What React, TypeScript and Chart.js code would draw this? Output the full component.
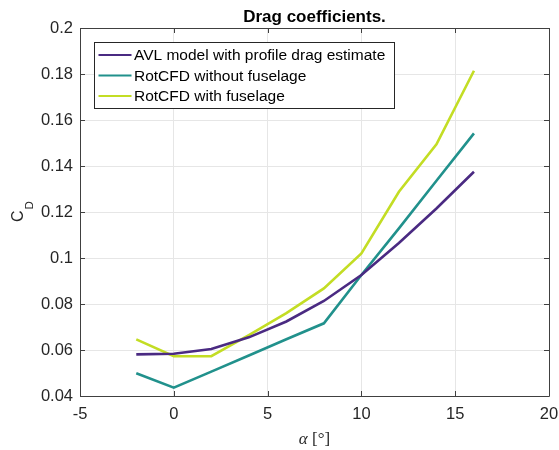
import React, { useEffect, useRef } from "react";
import { Chart, registerables } from "chart.js";

Chart.register(...registerables);

const alpha = [-2, 0, 2, 4, 6, 8, 10, 12, 14, 16];
const avlModel = [0.0581, 0.0584, 0.0604, 0.0655, 0.0724, 0.0813, 0.0926, 0.1065, 0.1215, 0.1375];
const rotNoFuselage = [0.0499, 0.0436, 0.0506, 0.0576, 0.0647, 0.0716, 0.0926, 0.1129, 0.1336, 0.1542];
const rotWithFuselage = [0.0646, 0.0573, 0.0573, 0.0665, 0.076, 0.0868, 0.102, 0.1288, 0.1494, 0.1814];

const seriesNames = [
  "AVL model with profile drag estimate",
  "RotCFD without fuselage",
  "RotCFD with fuselage",
];
const seriesColors = ["#4a2a82", "#21918c", "#c3dd24"];

const xTicks = [-5, 0, 5, 10, 15, 20];
const yTicks = [0.04, 0.06, 0.08, 0.1, 0.12, 0.14, 0.16, 0.18, 0.2];
const yTickLabels = ["0.04", "0.06", "0.08", "0.1", "0.12", "0.14", "0.16", "0.18", "0.2"];
const xTickLabels = ["-5", "0", "5", "10", "15", "20"];

const titleText = "Drag coefficients.";

const SANS = "'Liberation Sans', Arial, Helvetica, sans-serif";
const SERIF = "'Liberation Serif', 'Times New Roman', serif";
const TEXT = "#262626";

const decorPlugin = {
  id: "decor",
  afterDraw(chart: any) {
    const ctx = chart.ctx as CanvasRenderingContext2D;
    const a = chart.chartArea;
    const xs = chart.scales.x;
    const ys = chart.scales.y;
    ctx.save();
    // box
    ctx.strokeStyle = "#404040";
    ctx.lineWidth = 1;
    ctx.beginPath();
    ctx.rect(Math.round(a.left) + 0.5, Math.round(a.top) + 0.5, Math.round(a.right - a.left), Math.round(a.bottom - a.top));
    ctx.stroke();
    // inward ticks
    const tl = 5;
    ctx.beginPath();
    xTicks.forEach((v) => {
      const px = Math.round(xs.getPixelForValue(v)) + 0.5;
      ctx.moveTo(px, a.bottom);
      ctx.lineTo(px, a.bottom - tl);
      ctx.moveTo(px, a.top);
      ctx.lineTo(px, a.top + tl);
    });
    yTicks.forEach((v) => {
      const py = Math.round(ys.getPixelForValue(v)) + 0.5;
      ctx.moveTo(a.left, py);
      ctx.lineTo(a.left + tl, py);
      ctx.moveTo(a.right, py);
      ctx.lineTo(a.right - tl, py);
    });
    ctx.stroke();

    // title
    ctx.fillStyle = "#000";
    ctx.font = `bold 17px ${SANS}`;
    ctx.textAlign = "center";
    ctx.textBaseline = "alphabetic";
    ctx.fillText(titleText, (a.left + a.right) / 2, 22);

    // x label: α [°]
    const cx = (a.left + a.right) / 2;
    ctx.font = `italic 17px ${SERIF}`;
    const wA = ctx.measureText("α").width;
    ctx.font = `17px ${SERIF}`;
    const rest = " [°]";
    const wR = ctx.measureText(rest).width;
    const startX = cx - (wA + wR) / 2;
    ctx.fillStyle = TEXT;
    ctx.textAlign = "left";
    ctx.font = `italic 17px ${SERIF}`;
    ctx.fillText("α", startX, 444);
    ctx.font = `17px ${SERIF}`;
    ctx.fillText(rest, startX + wA, 444);

    // y label: C_D
    ctx.save();
    ctx.translate(23, 222);
    ctx.rotate(-Math.PI / 2);
    ctx.textAlign = "left";
    ctx.textBaseline = "alphabetic";
    ctx.font = `16px ${SANS}`;
    ctx.fillText("C", 0, 0);
    const wC = ctx.measureText("C").width;
    ctx.font = `11.5px ${SANS}`;
    ctx.fillText("D", wC + 1, 10);
    ctx.restore();

    // legend
    ctx.font = `15.5px ${SANS}`;
    let maxW = 0;
    seriesNames.forEach((n) => {
      maxW = Math.max(maxW, ctx.measureText(n).width);
    });
    const bx = 94.5;
    const by = 42.5;
    const textX = 134;
    const bw = Math.round(textX + maxW + 9 - bx);
    const bh = 66;
    ctx.fillStyle = "#fff";
    ctx.fillRect(bx, by, bw, bh);
    ctx.strokeStyle = "#262626";
    ctx.lineWidth = 1;
    ctx.strokeRect(bx, by, bw, bh);
    const rows = [55, 75.5, 96];
    chart.data.datasets.forEach((ds: any, i: number) => {
      ctx.strokeStyle = ds.borderColor;
      ctx.lineWidth = 2.2;
      ctx.beginPath();
      ctx.moveTo(98.5, rows[i]);
      ctx.lineTo(131.5, rows[i]);
      ctx.stroke();
      ctx.fillStyle = "#000";
      ctx.textAlign = "left";
      ctx.textBaseline = "middle";
      ctx.fillText(ds.label, textX, rows[i] + 1);
    });
    ctx.restore();
  },
};

export default function App() {
  const ref = useRef<HTMLCanvasElement | null>(null);
  useEffect(() => {
    if (!ref.current) return;
    const series = [avlModel, rotNoFuselage, rotWithFuselage];
    const chart = new Chart(ref.current, {
      type: "line",
      data: {
        datasets: series.map((s, i) => ({
          label: seriesNames[i],
          data: alpha.map((x, j) => ({ x, y: s[j] })),
          borderColor: seriesColors[i],
          backgroundColor: seriesColors[i],
          borderWidth: 2.6,
          pointRadius: 0,
          tension: 0,
          fill: false,
        })),
      },
      options: {
        responsive: false,
        animation: false,
        events: [],
        layout: { padding: { top: 28, right: 10, left: 0, bottom: 0 } },
        plugins: {
          legend: { display: false },
          title: { display: false },
          tooltip: { enabled: false },
        },
        scales: {
          x: {
            type: "linear",
            min: -5,
            max: 20,
            afterBuildTicks: (s: any) => {
              s.ticks = xTicks.map((v) => ({ value: v }));
            },
            afterFit: (s: any) => {
              s.height = 54;
              s.paddingRight = 0;
              s.paddingLeft = 0;
            },
            grid: { color: "#e6e6e6", drawTicks: false },
            border: { display: false },
            ticks: {
              padding: 9,
              color: TEXT,
              font: { family: SANS, size: 16.5 },
              callback: (v: any) => {
                const i = xTicks.indexOf(Number(v));
                return i >= 0 ? xTickLabels[i] : "";
              },
              maxRotation: 0,
            },
          },
          y: {
            type: "linear",
            min: 0.04,
            max: 0.2,
            afterBuildTicks: (s: any) => {
              s.ticks = yTicks.map((v) => ({ value: v }));
            },
            afterFit: (s: any) => {
              s.width = 80;
              s.paddingTop = 0;
              s.paddingBottom = 0;
            },
            grid: { color: "#e6e6e6", drawTicks: false },
            border: { display: false },
            ticks: {
              padding: 7,
              color: TEXT,
              font: { family: SANS, size: 16.5 },
              callback: (v: any) => {
                const i = yTicks.findIndex((t) => Math.abs(t - Number(v)) < 1e-9);
                return i >= 0 ? yTickLabels[i] : "";
              },
            },
          },
        },
      },
      plugins: [decorPlugin],
    } as any);
    return () => chart.destroy();
  }, []);
  return (
    <canvas
      ref={ref}
      width={559}
      height={450}
      style={{ position: "absolute", left: 0, top: 0, display: "block", background: "#fff" }}
    />
  );
}
